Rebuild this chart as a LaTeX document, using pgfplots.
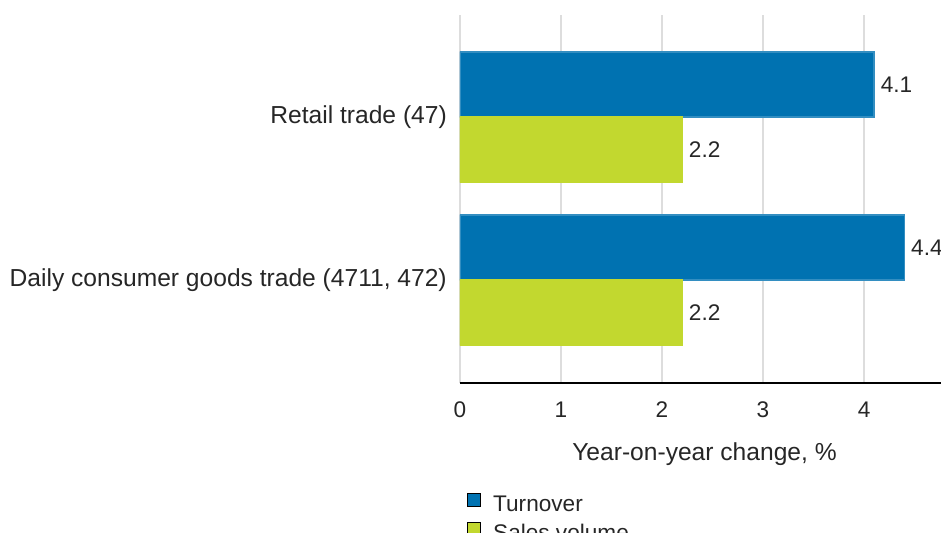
\documentclass[border=0pt]{standalone}
\usepackage{fontspec}
\setmainfont{Liberation Sans}
\usepackage{pgfplots}
\pgfplotsset{compat=1.18}
\definecolor{turnover}{HTML}{0072B1}
\definecolor{salesvol}{HTML}{C2D82F}
\definecolor{txt}{HTML}{262626}
\definecolor{gridc}{HTML}{DDDDDD}

\begin{document}
\begin{tikzpicture}
\begin{axis}[
    name=ax,
    scale only axis,
    width=481pt, height=368pt,
    xbar, bar width=0.4,
    xmin=0, xmax=4.762,
    ymin=-0.632, ymax=1.626,
    xtick={0,1,2,3,4},
    ytick={0,1},
    yticklabels={{Daily consumer goods trade (4711, 472)},{Retail trade (47)}},
    axis x line*=bottom, axis y line*=left,
    y axis line style={draw=none},
    x axis line style={-, black, line width=1.5pt},
    major tick length=0pt,
    xmajorgrids,
    grid style={gridc, line width=1.5pt},
    /pgf/number format/assume math mode=true,
    tick label style={txt, font=\fontsize{22.6}{27}\selectfont, inner sep=0pt},
    x tick label style={anchor=north, yshift=-19pt},
    y tick label style={anchor=east, xshift=-13pt, font=\fontsize{24.6}{29}\selectfont},
    xlabel={Year-on-year change, \%},
    xlabel style={at={(axis description cs:0.5,0)}, anchor=north, inner sep=0pt,
        yshift=-59pt, xshift=4pt, font=\fontsize{24.6}{29}\selectfont, txt},
    nodes near coords,
    every node near coord/.append style={font=\fontsize{22.6}{27}\selectfont, txt,
        anchor=west, inner sep=0pt, xshift=6pt},
    legend style={draw=none, fill=none, at={(axis description cs:0,0)},
        anchor=north west, xshift=7pt, yshift=-110pt, inner sep=0pt,
        column sep=12pt, row sep=6pt, font=\fontsize{22.6}{27}\selectfont, text=txt,
        nodes={inner sep=0pt, text height=16pt, text depth=5pt}},
    legend cell align=left,
    legend image code/.code={\draw[#1, draw=black, line width=1pt] (0pt,-1pt) rectangle (13pt,12pt);},
]
\addplot[fill=turnover, draw=turnover!80!white, line width=1.5pt, bar shift=0.2] coordinates {(4.1,1) (4.4,0)};
\addplot[fill=salesvol, draw=salesvol, line width=1.5pt, bar shift=-0.2] coordinates {(2.2,1) (2.2,0)};
\legend{Turnover, Sales volume}
\end{axis}
\pgfresetboundingbox
\path (ax.south west) ++(-460pt,-149pt) rectangle ++(941pt,532pt);
\end{tikzpicture}
\end{document}
